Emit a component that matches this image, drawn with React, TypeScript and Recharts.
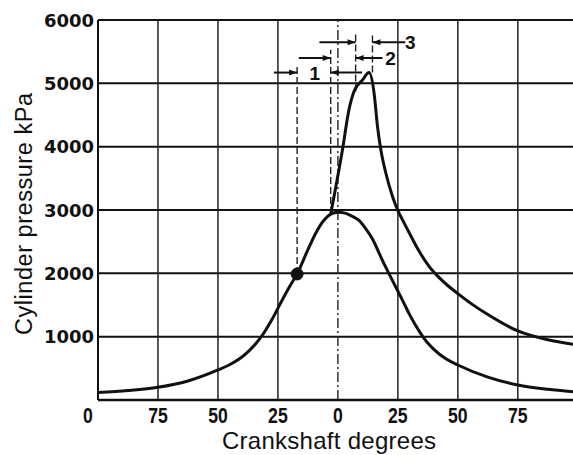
import React from 'react';
import { LineChart, Line, XAxis, YAxis, CartesianGrid, ReferenceLine, ReferenceDot } from 'recharts';

// Crank angle (negative = before TDC) and pressure, kPa
const motoringAngles = [-100, -87.5, -75, -62.5, -50, -45, -41, -37.5, -34, -31, -27.5, -23.2, -20, -17, -13, -9.3, -6, -3, 0, 3, 6, 8.7, 11.5, 14.3, 18.5, 22.7, 27, 30, 34, 37, 40, 45, 50, 62.5, 75, 87.5, 98];
const motoringPressure = [120, 150, 200, 300, 474, 560, 650, 760, 900, 1050, 1270, 1580, 1800, 1990, 2330, 2630, 2830, 2935, 2965, 2950, 2900, 2840, 2710, 2550, 2210, 1890, 1570, 1340, 1080, 920, 800, 650, 553, 360, 237, 170, 132];

const firingAngles = [-3, 1.9, 4.6, 6.7, 10.2, 13, 15.1, 16.5, 17.9, 20, 22.8, 24.9, 27, 30, 34, 38, 42, 46, 50, 56, 62.5, 75, 87.5, 98];
const firingPressure = [2935, 3950, 4580, 4870, 5050, 5170, 4840, 4320, 3950, 3580, 3210, 3000, 2840, 2620, 2340, 2110, 1940, 1800, 1680, 1510, 1350, 1090, 950, 880];

const xTicks = [-100, -75, -50, -25, 0, 25, 50, 75];
const xTickLabels = ['0', '75', '50', '25', '0', '25', '50', '75'];
const yTicks = [1000, 2000, 3000, 4000, 5000, 6000];

// Combustion phase markers (vertical dashed lines)
const markerAngles = [-17, -3, 7.4, 14.4];
const markerBottoms = [1990, 2935, 4870, 5170];
const markerTops = [5290, 5530, 5780, 5780];

// Interval arrows: tail angle, head angle, pressure level
const arrowTails = [-26.7, 10.1, -16.3, 18.6, -7.7, 28.1];
const arrowHeads = [-17, -3, -3, 7.4, 7.4, 14.4];
const arrowLevels = [5170, 5170, 5400, 5400, 5650, 5650];

const phaseLabels = ['1', '2', '3'];
const phaseLabelAngles = [-9.6, 21.9, 30.2];
const phaseLabelLevels = [5170, 5400, 5650];

const motoringData = motoringAngles.map((d, i) => ({ deg: d, p: motoringPressure[i] }));
const firingData = firingAngles.map((d, i) => ({ deg: d, p: firingPressure[i] }));

const XTick = (props: any) => {
  const { x, y, payload } = props;
  const i = xTicks.indexOf(payload.value);
  const dx = i === 0 ? -10 : 0;
  return (
    <text
      transform={`translate(${x + dx},${y + 22.5}) scale(0.82,1)`}
      textAnchor="middle"
      fontFamily="Liberation Sans, Arial, sans-serif"
      fontWeight="bold"
      fontSize={21.5}
      fill="#111"
    >
      {xTickLabels[i]}
    </text>
  );
};

const YTick = (props: any) => {
  const { x, y, payload } = props;
  return (
    <text x={x} y={y + 6.5} textAnchor="end" fontFamily="DejaVu Sans, sans-serif" fontWeight="bold" fontSize={18} fill="#111">
      {payload.value}
    </text>
  );
};

const XTitle = (props: any) => {
  const vb = props.viewBox;
  return (
    <text x={vb.x + vb.width / 2 - 6.5} y={vb.y + 49.3} textAnchor="middle" fontFamily="Liberation Sans, Arial, sans-serif" fontSize={24} fill="#111" textLength={214} lengthAdjust="spacing">
      Crankshaft degrees
    </text>
  );
};

const YTitle = (props: any) => {
  const vb = props.viewBox;
  const cx = 32;
  const cy = vb.y + vb.height / 2 + 4;
  return (
    <text x={cx} y={cy} transform={`rotate(-90 ${cx} ${cy})`} textAnchor="middle" fontFamily="Liberation Sans, Arial, sans-serif" fontSize={23.5} fill="#111" textLength={242} lengthAdjust="spacing">
      Cylinder pressure kPa
    </text>
  );
};

const makeArrowHead = (dir: number) => (p: any) => {
  const { cx, cy } = p;
  const L = 8;
  const W = 3;
  return <polygon points={`${cx},${cy} ${cx - dir * L},${cy - W} ${cx - dir * L},${cy + W}`} fill="#111" />;
};

const makeLabel = (t: string) => (p: any) => (
  <text x={p.cx} y={p.cy + 7} textAnchor="middle" fontFamily="Liberation Sans, Arial, sans-serif" fontWeight="bold" fontSize={19} fill="#111">
    {t}
  </text>
);

export default function App() {
  return (
    <div style={{ position: 'absolute', left: 0, top: 0, background: '#fff' }}>
      <LineChart width={573} height={455} margin={{ top: 20, right: 0, left: 0, bottom: 0 }}>
        <CartesianGrid horizontal vertical={false} stroke="#111" strokeWidth={2} />
        <XAxis
          type="number"
          dataKey="deg"
          domain={[-100, 98]}
          allowDataOverflow
          ticks={xTicks}
          tick={<XTick />}
          tickLine={false}
          tickSize={0}
          tickMargin={0}
          height={55}
          axisLine={{ stroke: '#111', strokeWidth: 2.5 }}
          label={{ content: <XTitle /> } as any}
        />
        <YAxis
          type="number"
          domain={[0, 6000]}
          ticks={yTicks}
          tick={<YTick />}
          tickLine={false}
          tickSize={0}
          tickMargin={4}
          width={98}
          axisLine={{ stroke: '#111', strokeWidth: 2 }}
          label={{ content: <YTitle /> } as any}
        />
        {xTicks.slice(1).map((t) => (
          <ReferenceLine
            key={`g${t}`}
            x={t}
            stroke="#222"
            strokeWidth={t === 0 ? 1.4 : 1.5}
            strokeDasharray={t === 0 ? '10 3 2 3' : undefined}
          />
        ))}
        {markerAngles.map((a, i) => (
          <ReferenceLine
            key={`m${i}`}
            segment={[{ x: a, y: markerBottoms[i] }, { x: a, y: markerTops[i] }]}
            stroke="#222"
            strokeWidth={1.4}
            strokeDasharray="7 3"
          />
        ))}
        {arrowTails.map((a, i) => (
          <ReferenceLine
            key={`a${i}`}
            segment={[{ x: a, y: arrowLevels[i] }, { x: arrowHeads[i], y: arrowLevels[i] }]}
            stroke="#111"
            strokeWidth={2}
          />
        ))}
        {arrowHeads.map((a, i) => (
          <ReferenceDot
            key={`h${i}`}
            x={a}
            y={arrowLevels[i]}
            r={4}
            shape={makeArrowHead(a > arrowTails[i] ? 1 : -1)}
          />
        ))}
        {phaseLabels.map((t, i) => (
          <ReferenceDot key={`l${i}`} x={phaseLabelAngles[i]} y={phaseLabelLevels[i]} r={4} shape={makeLabel(t)} />
        ))}
        <Line data={motoringData} dataKey="p" type="monotone" stroke="#111" strokeWidth={3} dot={false} isAnimationActive={false} />
        <Line data={firingData} dataKey="p" type="monotone" stroke="#111" strokeWidth={3} dot={false} isAnimationActive={false} />
        <ReferenceDot x={-17} y={1990} r={6} fill="#111" stroke="#111" />
      </LineChart>
    </div>
  );
}
